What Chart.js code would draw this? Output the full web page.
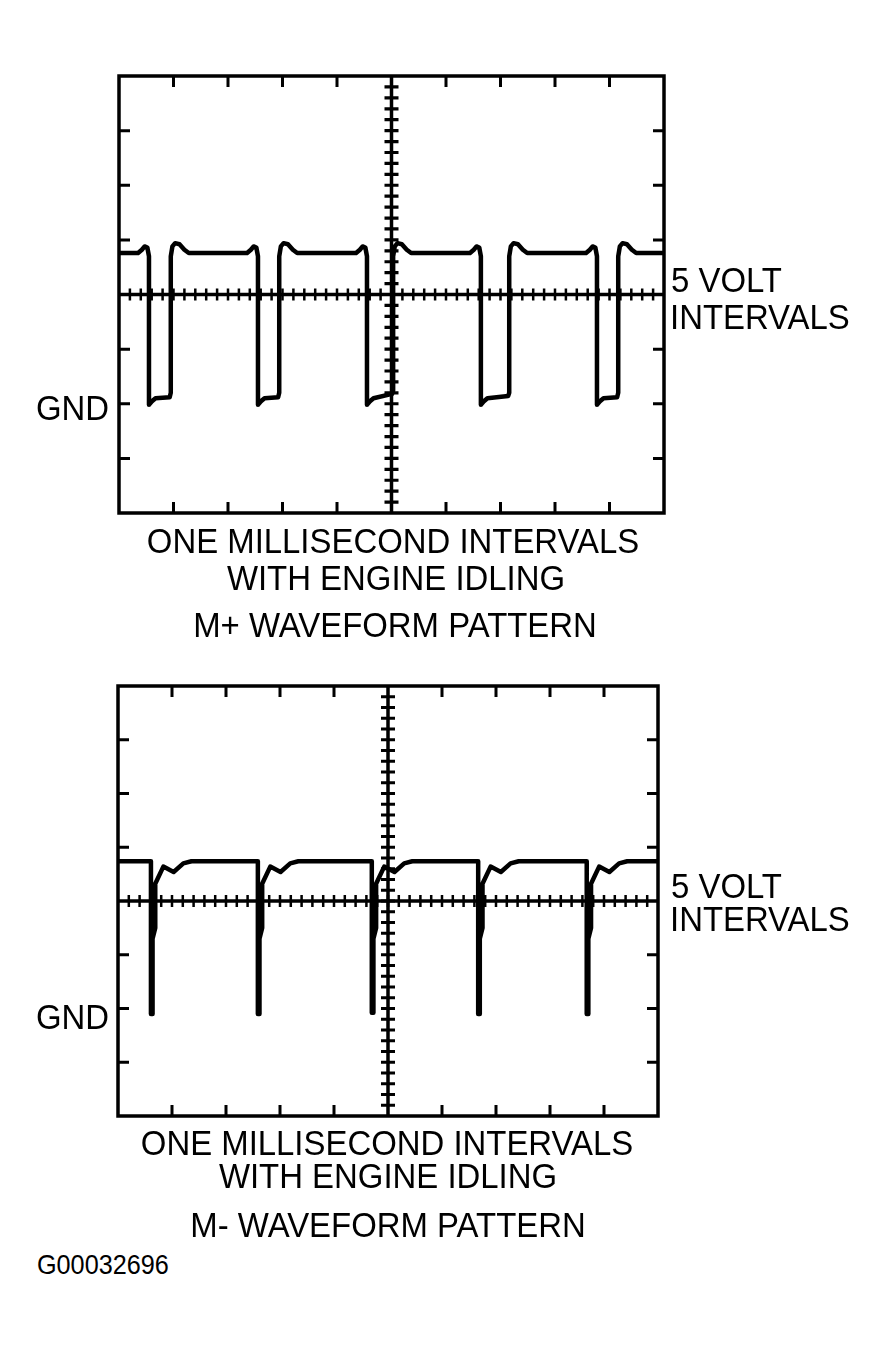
<!DOCTYPE html>
<html>
<head>
<meta charset="utf-8">
<script src="https://cdn.jsdelivr.net/npm/chart.js@4.4.1/dist/chart.umd.min.js"></script>
<style>
html,body{margin:0;padding:0;background:#fff;}
body{width:891px;height:1349px;position:relative;overflow:hidden;font-family:"Liberation Sans",Arial,Helvetica,sans-serif;color:#000;}
canvas{position:absolute;}
.t{position:absolute;font-size:35px;line-height:35px;white-space:nowrap;}
.c{transform:translateX(-50%) scaleX(0.94);}
.l{transform-origin:0 0;transform:scaleX(0.94);}
.id{font-size:28px;line-height:28px;transform-origin:0 0;transform:scaleX(0.9);}
</style>
</head>
<body>
<canvas id="plus" width="600" height="470" style="left:100px;top:60px"></canvas>
<canvas id="minus" width="600" height="470" style="left:100px;top:670px"></canvas>

<div class="t l" style="left:671px;top:262px">5 VOLT</div>
<div class="t l" style="left:670px;top:299px">INTERVALS</div>
<div class="t l" style="left:36px;top:390px">GND</div>
<div class="t c" style="left:393px;top:523px">ONE MILLISECOND INTERVALS</div>
<div class="t c" style="left:396px;top:560px">WITH ENGINE IDLING</div>
<div class="t c" style="left:395px;top:607px">M+ WAVEFORM PATTERN</div>

<div class="t l" style="left:671px;top:868px">5 VOLT</div>
<div class="t l" style="left:670px;top:901px">INTERVALS</div>
<div class="t l" style="left:36px;top:999px">GND</div>
<div class="t c" style="left:387px;top:1125px">ONE MILLISECOND INTERVALS</div>
<div class="t c" style="left:388px;top:1158px">WITH ENGINE IDLING</div>
<div class="t c" style="left:388px;top:1207px">M- WAVEFORM PATTERN</div>

<div class="t id" style="left:37px;top:1251px">G00032696</div>

<script>
// Time axis in milliseconds (1 ms per division), voltage in volts above GND (5 V per division)
const timeDivisions = [0, 10];
const voltRange = [-10, 30];
const centerTime = 5;
const centerVolt = 10;

// M+ waveform
const mPlusTime = [
  0,
  0.35,0.42,0.47,0.52,0.55,0.55,0.60,0.67,0.93,0.95,0.95,0.98,1.03,1.11,1.20,1.28,
  2.35,2.42,2.47,2.52,2.55,2.55,2.60,2.67,2.92,2.94,2.94,2.97,3.02,3.10,3.19,3.27,
  4.35,4.42,4.47,4.52,4.55,4.55,4.60,4.67,5.01,5.03,5.03,5.06,5.11,5.19,5.28,5.36,
  6.44,6.51,6.56,6.61,6.64,6.64,6.69,6.76,7.14,7.16,7.16,7.19,7.24,7.32,7.41,7.49,
  8.57,8.64,8.69,8.74,8.77,8.77,8.82,8.89,9.14,9.16,9.16,9.19,9.24,9.32,9.41,9.49,
  10
];
const mPlusVolts = [
  13.8,
  13.8,14.1,14.4,14.3,13.5,-0.1,0.2,0.5,0.6,1.0,13.5,14.4,14.7,14.6,14.1,13.8,
  13.8,14.1,14.4,14.3,13.5,-0.1,0.2,0.5,0.6,1.0,13.5,14.4,14.7,14.6,14.1,13.8,
  13.8,14.1,14.4,14.3,13.5,-0.1,0.2,0.5,0.9,1.2,13.5,14.4,14.7,14.6,14.1,13.8,
  13.8,14.1,14.4,14.3,13.5,-0.1,0.2,0.5,0.7,1.0,13.5,14.4,14.7,14.6,14.1,13.8,
  13.8,14.1,14.4,14.3,13.5,-0.1,0.2,0.5,0.6,1.0,13.5,14.4,14.7,14.6,14.1,13.8,
  13.8
];

// M- waveform
const mMinusTime = [
  0,
  0.61,0.61,0.64,0.64,0.69,0.69,0.84,1.03,1.21,1.36,
  2.59,2.59,2.62,2.62,2.67,2.67,2.82,3.01,3.19,3.34,
  4.70,4.70,4.73,4.73,4.78,4.78,4.93,5.12,5.30,5.45,
  6.67,6.67,6.70,6.70,6.75,6.75,6.90,7.09,7.27,7.42,
  8.68,8.68,8.71,8.71,8.76,8.76,8.91,9.10,9.28,9.43,
  10
];
const mMinusVolts = [
  13.7,
  13.7,-0.5,-0.5,6.5,7.5,11.6,13.2,12.7,13.5,13.7,
  13.7,-0.5,-0.5,6.5,7.5,11.6,13.2,12.7,13.5,13.7,
  13.7,-0.4,-0.4,6.5,7.5,11.6,13.2,12.7,13.5,13.7,
  13.7,-0.5,-0.5,6.5,7.5,11.6,13.2,12.7,13.5,13.7,
  13.7,-0.5,-0.5,6.5,7.5,11.6,13.2,12.7,13.5,13.7,
  13.7
];

const majorTimeTicks = [1,2,3,4,6,7,8,9];
const majorVoltTicks = [-5,0,5,15,20,25];

const scopeGraticule = {
  id: 'scopeGraticule',
  beforeDatasetsDraw(chart) {
    const {ctx, chartArea: a, scales: {x, y}} = chart;
    const cx = x.getPixelForValue(centerTime);
    const cy = y.getPixelForValue(centerVolt);
    ctx.save();
    ctx.strokeStyle = '#000';
    ctx.lineCap = 'butt';
    // frame
    ctx.lineWidth = 3.5;
    ctx.strokeRect(a.left, a.top, a.right - a.left, a.bottom - a.top);
    // major ticks on frame
    ctx.lineWidth = 3;
    ctx.beginPath();
    majorTimeTicks.forEach(v => {
      const px = x.getPixelForValue(v);
      ctx.moveTo(px, a.top); ctx.lineTo(px, a.top + 11);
      ctx.moveTo(px, a.bottom); ctx.lineTo(px, a.bottom - 11);
    });
    majorVoltTicks.forEach(v => {
      const py = y.getPixelForValue(v);
      ctx.moveTo(a.left, py); ctx.lineTo(a.left + 11, py);
      ctx.moveTo(a.right, py); ctx.lineTo(a.right - 11, py);
    });
    ctx.stroke();
    // center axes
    ctx.lineWidth = 3.5;
    ctx.beginPath();
    ctx.moveTo(a.left, cy); ctx.lineTo(a.right, cy);
    ctx.moveTo(cx, a.top); ctx.lineTo(cx, a.bottom);
    ctx.stroke();
    // minor ticks (5 per division)
    ctx.lineWidth = 2.5;
    ctx.beginPath();
    for (let i = 1; i < 50; i++) {
      const px = x.getPixelForValue(timeDivisions[0] + i * 0.2);
      ctx.moveTo(px, cy - 6); ctx.lineTo(px, cy + 6);
    }
    ctx.stroke();
    ctx.lineWidth = 3.2;
    ctx.beginPath();
    for (let i = 1; i < 40; i++) {
      const py = y.getPixelForValue(voltRange[0] + i * 1);
      ctx.moveTo(cx - 7, py); ctx.lineTo(cx + 7, py);
    }
    ctx.stroke();
    ctx.restore();
  }
};

function makeScope(id, times, volts, pad) {
  const pts = times.map((t, i) => ({x: t, y: volts[i]}));
  return new Chart(document.getElementById(id), {
    type: 'line',
    data: {
      datasets: [{
        data: pts,
        borderColor: '#000',
        borderWidth: 4.5,
        pointRadius: 0,
        tension: 0,
        fill: false,
        borderJoinStyle: 'round',
        borderCapStyle: 'round'
      }]
    },
    options: {
      responsive: false,
      animation: false,
      devicePixelRatio: 1,
      layout: {padding: pad},
      scales: {
        x: {type: 'linear', min: timeDivisions[0], max: timeDivisions[1], display: false},
        y: {type: 'linear', min: voltRange[0], max: voltRange[1], display: false}
      },
      plugins: {legend: {display: false}, tooltip: {enabled: false}, title: {display: false}}
    },
    plugins: [scopeGraticule]
  });
}

makeScope('plus', mPlusTime, mPlusVolts, {left: 19, top: 16, right: 36, bottom: 17});
makeScope('minus', mMinusTime, mMinusVolts, {left: 18, top: 16, right: 42, bottom: 24});
</script>
</body>
</html>
